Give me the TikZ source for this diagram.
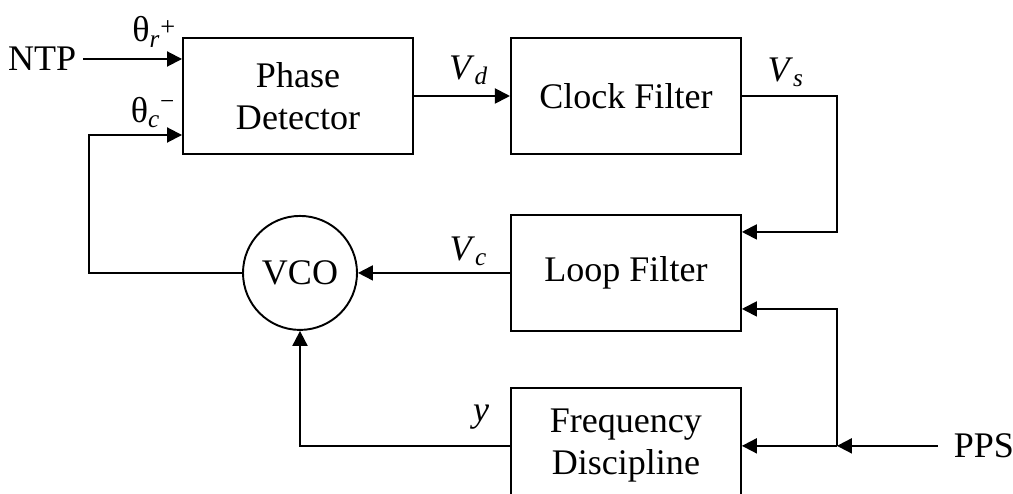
\documentclass[tikz,border=0pt]{standalone}
\usepackage{fontspec}
\setmainfont{Liberation Serif}
\usetikzlibrary{arrows.meta,positioning}

\begin{document}
\begin{tikzpicture}[every node/.style={font=\fontsize{20.5}{24}\selectfont},
  line width=1.1pt,>={Triangle[length=0.3cm,width=0.3cm]},
  block/.style={draw,minimum width=4.6cm,minimum height=2.32cm,align=center},
  node distance=1.92cm]
\useasboundingbox (0,0) rectangle (20.26,-9.88);
\node[block] (pd) at (5.96,-1.92) {Phase\\ Detector};
\node[block,right=of pd] (cf) {Clock Filter};
\node[block,below=1.18cm of cf] (lf) {Loop Filter};
\node[block,below=1.1cm of lf] (fd) {Frequency\\ Discipline};
\node[draw,circle,minimum size=2.28cm,inner sep=0pt,left=3.04cm of lf] (vco) {VCO};
\coordinate (pdin1) at ([yshift=0.74cm]pd.west);
\coordinate (pdin2) at ([yshift=-0.78cm]pd.west);
\coordinate (lfin1) at ([yshift=0.82cm]lf.east);
\coordinate (lfin2) at ([yshift=-0.72cm]lf.east);
\coordinate (jn) at ([xshift=1.9cm]fd.east);
\node[left=1.98cm of pdin1] (ntp) {NTP};
\node[right=2.02cm of jn,inner xsep=0.3cm] (pps) {PPS};
\node[above left=0.1cm and 0cm of pdin1] (thr) {θ\textsubscript{\textit{r}}\raisebox{0.18em}{\fontsize{15}{15}\selectfont +}};
\node[above left=0cm and 0cm of pdin2] (thc) {θ\textsubscript{\textit{c}}\textsuperscript{−}};
\node[above left=0.08cm and 0.3cm of cf.west] (vd) {\textit{V}\textsubscript{\textit{d}}};
\node[above right=0.04cm and 0.38cm of cf.east] (vs) {\textit{V}\textsubscript{\textit{s}}};
\node[above left=0cm and 0.32cm of lf.west] (vc) {\textit{V}\textsubscript{\textit{c}}};
\node[above left=0.2cm and 0.28cm of fd.west] (yl) {\textit{y}};
\draw[->] (ntp.east) -- (pdin1);
\draw[->] (pd) -- (cf);
\draw[->] (cf.east) -- ++(1.9cm,0) |- (lfin1);
\draw[->] (lf) -- (vco);
\draw[->] (vco.west) -- ++(-3.06cm,0) |- (pdin2);
\draw[->] (pps) -- (jn);
\draw[->] (jn) -- (fd.east);
\draw[->] (jn) |- (lfin2);
\draw[->] (fd.west) -| (vco.south);
\end{tikzpicture}
\end{document}
